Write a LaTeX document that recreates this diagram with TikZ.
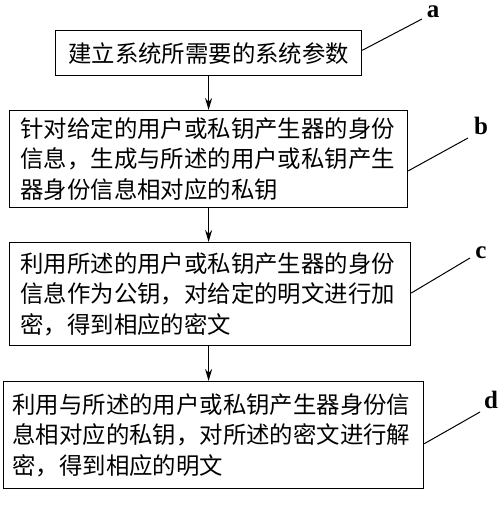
\documentclass[tikz,border=0pt]{standalone}
\usepackage{fontspec}
\setmainfont{Liberation Serif}
\newfontfamily\cjk{Noto Sans CJK SC}
\usepackage{tikz}
\usetikzlibrary{arrows.meta,calc}
\tikzset{
  every picture/.style={x=1pt, y=-1pt},
  stepbox/.style={draw, line width=1.2pt, anchor=north west, align=left,
    inner ysep=0pt, font=\cjk\fontsize{23.4}{30.5}\selectfont},
  flow/.style={line width=1.2pt, -{Stealth[length=12pt,width=7pt]}},
  leader/.style={line width=1pt},
  tag/.style={anchor=base, inner sep=0pt, font=\bfseries\fontsize{25}{25}\selectfont}
}

\begin{document}
\begin{tikzpicture}
      \useasboundingbox (0,0) rectangle (500,509);

      % The four steps
      \node[stepbox, align=center, inner xsep=0pt, text width=306pt, minimum height=45pt]
        (a) at (55,30) {建立系统所需要的系统参数};
      \node[stepbox, inner xsep=11pt, text width=376pt, minimum height=97pt]
        (b) at (9,110) {针对给定的用户或私钥产生器的身份\\信息，生成与所述的用户或私钥产生\\器身份信息相对应的私钥};
      \node[stepbox, inner xsep=11pt, text width=379pt, minimum height=103pt]
        (c) at (9,242) {利用所述的用户或私钥产生器的身份\\信息作为公钥，对给定的明文进行加\\密，得到相应的密文};
      \node[stepbox, inner xsep=9pt, text width=402pt, minimum height=107pt]
        (d) at (3,381) {利用与所述的用户或私钥产生器身份信\\息相对应的私钥，对所述的密文进行解\\密，得到相应的明文};

      % Arrows between the steps
      \draw[flow] (a.south) -- (a.south |- b.north);
      \draw[flow] (a.south |- b.south) -- (a.south |- c.north);
      \draw[flow] (a.south |- c.south) -- (a.south |- d.north);

      % Step labels and their leader lines
      \node[tag] (ta) at (433,17) {a};
      \node[tag] (tb) at (481,134) {b};
      \node[tag] (tc) at (481,258) {c};
      \node[tag] (td) at (491,408) {d};
      \coordinate (ea) at (422,19);
      \coordinate (eb) at (468,138);
      \coordinate (ec) at (470,258);
      \coordinate (ed) at (480,412);
      \draw[leader] ($(a.north east)!.44!(a.south east)$) -- (ea);
      \draw[leader] ($(b.north east)!.62!(b.south east)$) -- (eb);
      \draw[leader] ($(c.north east)!.49!(c.south east)$) -- (ec);
      \draw[leader] ($(d.north east)!.58!(d.south east)$) -- (ed);
    \end{tikzpicture}
\end{document}
